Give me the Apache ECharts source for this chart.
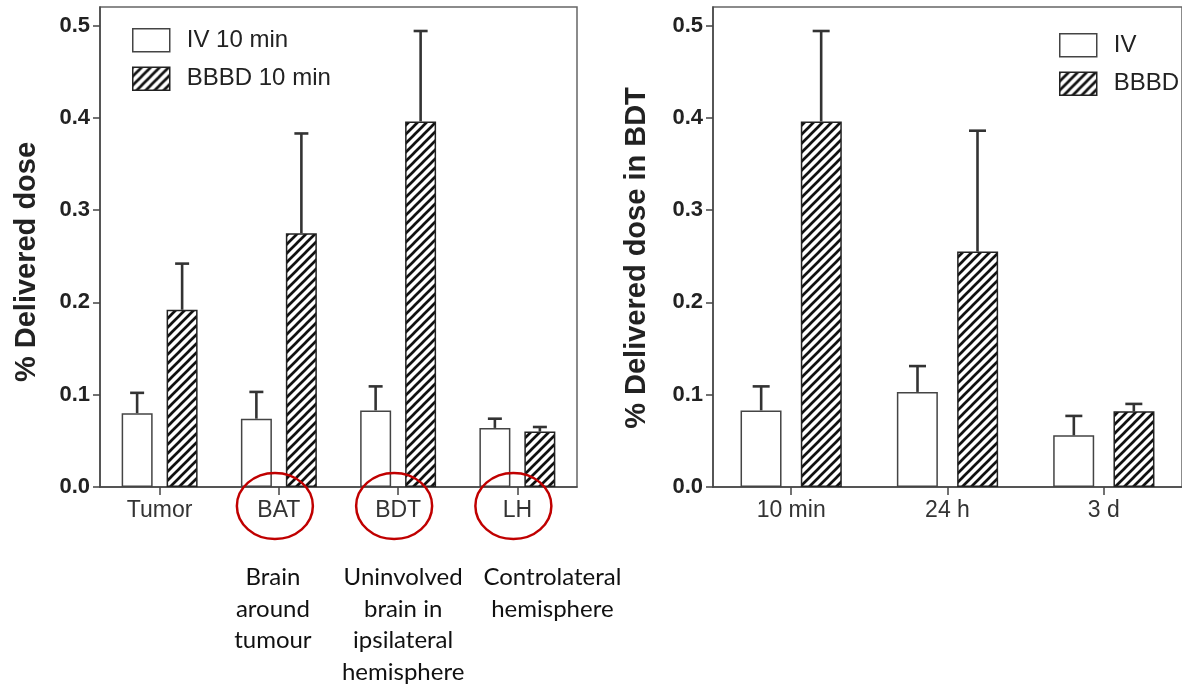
<!DOCTYPE html>
<html><head><meta charset="utf-8">
<script src="https://cdn.jsdelivr.net/npm/echarts@6/dist/echarts.min.js"></script>
<style>html,body{margin:0;padding:0;background:#fff}#c{width:1182px;height:690px}</style>
</head><body><div id="c"></div>
<script>
// ---------- data ----------
const leftCategories = ['Tumor', 'BAT', 'BDT', 'LH'];
const leftIV = [0.080, 0.074, 0.083, 0.064];
const leftIVErr = [0.022, 0.029, 0.026, 0.010];
const leftBBBD = [0.192, 0.275, 0.396, 0.060];
const leftBBBDErr = [0.050, 0.108, 0.098, 0.005];
const leftSeriesNames = ['IV 10 min', 'BBBD 10 min'];

const rightCategories = ['10 min', '24 h', '3 d'];
const rightIV = [0.083, 0.103, 0.056];
const rightIVErr = [0.026, 0.028, 0.021];
const rightBBBD = [0.396, 0.255, 0.082];
const rightBBBDErr = [0.098, 0.131, 0.008];
const rightSeriesNames = ['IV', 'BBBD'];

const yTicks = [0, 0.1, 0.2, 0.3, 0.4, 0.5];
const leftTitle = '% Delivered dose';
const rightTitle = '% Delivered dose in BDT';
const circledCategories = ['BAT', 'BDT', 'LH'];
const noteCategories = ['BAT', 'BDT', 'LH'];
const noteTexts = ['Brain\naround\ntumour', 'Uninvolved\nbrain in\nipsilateral\nhemisphere', 'Controlateral\nhemisphere'];
const noteShift = [-6, 5, 35];

// ---------- styling helpers ----------
const FONT = 'Liberation Sans, Arial, sans-serif';
function hatch() {
  const s = 9;
  const c = document.createElement('canvas'); c.width = s; c.height = s;
  const g = c.getContext('2d');
  g.fillStyle = '#fff'; g.fillRect(0, 0, s, s);
  g.strokeStyle = '#111'; g.lineWidth = 2.7; g.lineCap = 'square';
  g.beginPath();
  g.moveTo(-1, s + 1); g.lineTo(s + 1, -1);
  g.moveTo(-2, 2); g.lineTo(2, -2);
  g.moveTo(s - 2, s + 2); g.lineTo(s + 2, s - 2);
  g.stroke();
  return c;
}
const hatchFill = { image: hatch(), repeat: 'repeat' };
const ivStyle = { color: '#fff', borderColor: '#444', borderWidth: 1.5 };
const bbStyle = { color: hatchFill, borderColor: '#222', borderWidth: 1.5 };

function errSeries(idx, means, errs, offset, capHalf) {
  return {
    type: 'custom', xAxisIndex: idx, yAxisIndex: idx, z: 5, silent: true,
    data: means.map((m, i) => [i, m, errs[i]]),
    encode: { x: 0, y: 1 },
    renderItem: (p, api) => {
      const i = api.value(0), m = api.value(1), e = api.value(2);
      const b = api.coord([i, m]);
      const t = api.coord([i, m + e]);
      const x = b[0] + offset;
      const st = { stroke: '#333', lineWidth: 2.6 };
      return { type: 'group', children: [
        { type: 'line', shape: { x1: x, y1: b[1], x2: x, y2: t[1] }, style: st },
        { type: 'line', shape: { x1: x - capHalf, y1: t[1], x2: x + capHalf, y2: t[1] }, style: st }
      ]};
    }
  };
}

function yAxis(gi) {
  return {
    gridIndex: gi, type: 'value', min: 0, max: 0.52,
    axisLine: { show: true, lineStyle: { color: '#444', width: 1.5 } },
    axisTick: { show: true, length: 7, customValues: yTicks, lineStyle: { color: '#444', width: 1.5 } },
    axisLabel: { customValues: yTicks, formatter: v => v.toFixed(1), fontSize: 22, fontWeight: 'bold',
      color: '#222', fontFamily: FONT, margin: 10 },
    splitLine: { show: false }
  };
}
function xAxis(gi, cats) {
  return {
    gridIndex: gi, type: 'category', data: cats,
    axisLine: { show: true, lineStyle: { color: '#444', width: 1.5 } },
    axisTick: { show: true, alignWithLabel: true, length: 8, lineStyle: { color: '#444', width: 1.5 } },
    axisLabel: { fontSize: 23, color: '#333', fontFamily: FONT, margin: 12 }
  };
}
function legend(names, left, top) {
  return {
    orient: 'vertical', left: left, top: top, itemWidth: 37, itemHeight: 23, itemGap: 14,
    selectedMode: false, icon: 'rect',
    textStyle: { fontSize: 24, color: '#222', fontFamily: FONT, padding: [0, 0, 0, 12] },
    data: [
      { name: names[0], itemStyle: { color: '#fff', borderColor: '#444', borderWidth: 1.5 } },
      { name: names[1], itemStyle: { color: hatchFill, borderColor: '#222', borderWidth: 1.5 } }
    ]
  };
}

const chart = echarts.init(document.getElementById('c'), null, { renderer: 'canvas' });
chart.setOption({
  backgroundColor: '#fff',
  animation: false,
  grid: [
    { left: 100, top: 7, width: 477, height: 480, show: true, borderColor: '#666', borderWidth: 1.5 },
    { left: 713, top: 7, width: 484, height: 480, show: true, borderColor: '#666', borderWidth: 1.5 }
  ],
  xAxis: [xAxis(0, leftCategories), xAxis(1, rightCategories)],
  yAxis: [yAxis(0), yAxis(1)],
  legend: [legend(leftSeriesNames, 127, 23), legend(rightSeriesNames, 1054, 28)],
  series: [
    { type: 'bar', name: leftSeriesNames[0], xAxisIndex: 0, yAxisIndex: 0, data: leftIV, barWidth: 31, barGap: '45%', itemStyle: ivStyle },
    { type: 'bar', name: leftSeriesNames[1], xAxisIndex: 0, yAxisIndex: 0, data: leftBBBD, barWidth: 31, barGap: '45%', itemStyle: bbStyle },
    { type: 'bar', name: rightSeriesNames[0], xAxisIndex: 1, yAxisIndex: 1, data: rightIV, barWidth: 41, barGap: '47%', itemStyle: ivStyle },
    { type: 'bar', name: rightSeriesNames[1], xAxisIndex: 1, yAxisIndex: 1, data: rightBBBD, barWidth: 41, barGap: '47%', itemStyle: bbStyle },
    errSeries(0, leftIV, leftIVErr, -22.5, 7),
    errSeries(0, leftBBBD, leftBBBDErr, 22.5, 7),
    errSeries(1, rightIV, rightIVErr, -30, 8.5),
    errSeries(1, rightBBBD, rightBBBDErr, 30, 8.5)
  ]
});

// annotations positioned from the axis scale
const g = [];
g.push({ type: 'text', x: 27, y: 262, z: 100, rotation: Math.PI / 2,
  style: { text: leftTitle, fontSize: 29, fontWeight: 'bold', fill: '#222', fontFamily: FONT, align: 'center', verticalAlign: 'middle' } });
g.push({ type: 'text', x: 637, y: 258, z: 100, rotation: Math.PI / 2,
  style: { text: rightTitle, fontSize: 29, fontWeight: 'bold', fill: '#222', fontFamily: FONT, align: 'center', verticalAlign: 'middle' } });
circledCategories.forEach(c => {
  const px = chart.convertToPixel({ xAxisIndex: 0 }, leftCategories.indexOf(c));
  g.push({ type: 'ellipse', z: 100, shape: { cx: px - 4, cy: 506, rx: 38, ry: 33 },
    style: { fill: null, stroke: '#c00000', lineWidth: 2.5 } });
});
noteCategories.forEach((c, k) => {
  const px = chart.convertToPixel({ xAxisIndex: 0 }, leftCategories.indexOf(c));
  g.push({ type: 'text', x: px + noteShift[k], y: 562, z: 100,
    style: { text: noteTexts[k], fontSize: 24, lineHeight: 31.5, fill: '#111', fontFamily: 'Lato, Open Sans, sans-serif', align: 'center', verticalAlign: 'top' } });
});
chart.setOption({ graphic: g });
</script></body></html>
